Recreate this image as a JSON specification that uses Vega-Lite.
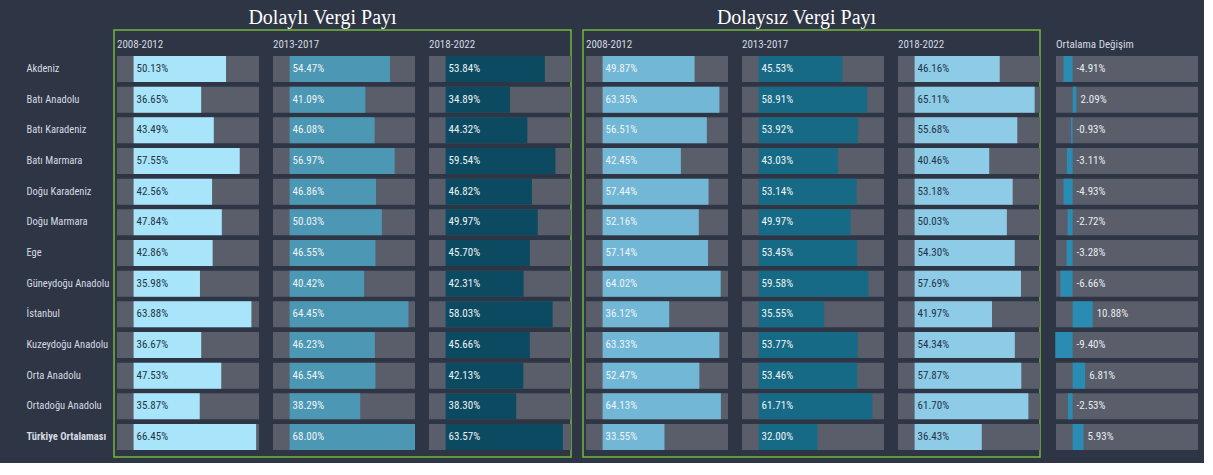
{
  "$schema": "https://vega.github.io/schema/vega-lite/v6.json",
  "background": "#2e3545",
  "padding": {"left": 25, "top": 7, "right": 5, "bottom": 5},
  "bounds": "flush",
  "spacing": 12,
  "datasets": {
    "shares": [
      {"region": "Akdeniz", "group": "Dolaylı", "period": "2008-2012", "v": 0.5013},
      {"region": "Akdeniz", "group": "Dolaylı", "period": "2013-2017", "v": 0.5447},
      {"region": "Akdeniz", "group": "Dolaylı", "period": "2018-2022", "v": 0.5384},
      {"region": "Batı Anadolu", "group": "Dolaylı", "period": "2008-2012", "v": 0.3665},
      {"region": "Batı Anadolu", "group": "Dolaylı", "period": "2013-2017", "v": 0.4109},
      {"region": "Batı Anadolu", "group": "Dolaylı", "period": "2018-2022", "v": 0.3489},
      {"region": "Batı Karadeniz", "group": "Dolaylı", "period": "2008-2012", "v": 0.4349},
      {"region": "Batı Karadeniz", "group": "Dolaylı", "period": "2013-2017", "v": 0.4608},
      {"region": "Batı Karadeniz", "group": "Dolaylı", "period": "2018-2022", "v": 0.4432},
      {"region": "Batı Marmara", "group": "Dolaylı", "period": "2008-2012", "v": 0.5755},
      {"region": "Batı Marmara", "group": "Dolaylı", "period": "2013-2017", "v": 0.5697},
      {"region": "Batı Marmara", "group": "Dolaylı", "period": "2018-2022", "v": 0.5954},
      {"region": "Doğu Karadeniz", "group": "Dolaylı", "period": "2008-2012", "v": 0.4256},
      {"region": "Doğu Karadeniz", "group": "Dolaylı", "period": "2013-2017", "v": 0.4686},
      {"region": "Doğu Karadeniz", "group": "Dolaylı", "period": "2018-2022", "v": 0.4682},
      {"region": "Doğu Marmara", "group": "Dolaylı", "period": "2008-2012", "v": 0.4784},
      {"region": "Doğu Marmara", "group": "Dolaylı", "period": "2013-2017", "v": 0.5003},
      {"region": "Doğu Marmara", "group": "Dolaylı", "period": "2018-2022", "v": 0.4997},
      {"region": "Ege", "group": "Dolaylı", "period": "2008-2012", "v": 0.4286},
      {"region": "Ege", "group": "Dolaylı", "period": "2013-2017", "v": 0.4655},
      {"region": "Ege", "group": "Dolaylı", "period": "2018-2022", "v": 0.4570},
      {"region": "Güneydoğu Anadolu", "group": "Dolaylı", "period": "2008-2012", "v": 0.3598},
      {"region": "Güneydoğu Anadolu", "group": "Dolaylı", "period": "2013-2017", "v": 0.4042},
      {"region": "Güneydoğu Anadolu", "group": "Dolaylı", "period": "2018-2022", "v": 0.4231},
      {"region": "İstanbul", "group": "Dolaylı", "period": "2008-2012", "v": 0.6388},
      {"region": "İstanbul", "group": "Dolaylı", "period": "2013-2017", "v": 0.6445},
      {"region": "İstanbul", "group": "Dolaylı", "period": "2018-2022", "v": 0.5803},
      {"region": "Kuzeydoğu Anadolu", "group": "Dolaylı", "period": "2008-2012", "v": 0.3667},
      {"region": "Kuzeydoğu Anadolu", "group": "Dolaylı", "period": "2013-2017", "v": 0.4623},
      {"region": "Kuzeydoğu Anadolu", "group": "Dolaylı", "period": "2018-2022", "v": 0.4566},
      {"region": "Orta Anadolu", "group": "Dolaylı", "period": "2008-2012", "v": 0.4753},
      {"region": "Orta Anadolu", "group": "Dolaylı", "period": "2013-2017", "v": 0.4654},
      {"region": "Orta Anadolu", "group": "Dolaylı", "period": "2018-2022", "v": 0.4213},
      {"region": "Ortadoğu Anadolu", "group": "Dolaylı", "period": "2008-2012", "v": 0.3587},
      {"region": "Ortadoğu Anadolu", "group": "Dolaylı", "period": "2013-2017", "v": 0.3829},
      {"region": "Ortadoğu Anadolu", "group": "Dolaylı", "period": "2018-2022", "v": 0.3830},
      {"region": "Türkiye Ortalaması", "group": "Dolaylı", "period": "2008-2012", "v": 0.6645},
      {"region": "Türkiye Ortalaması", "group": "Dolaylı", "period": "2013-2017", "v": 0.6800},
      {"region": "Türkiye Ortalaması", "group": "Dolaylı", "period": "2018-2022", "v": 0.6357},
      {"region": "Akdeniz", "group": "Dolaysız", "period": "2008-2012", "v": 0.4987},
      {"region": "Akdeniz", "group": "Dolaysız", "period": "2013-2017", "v": 0.4553},
      {"region": "Akdeniz", "group": "Dolaysız", "period": "2018-2022", "v": 0.4616},
      {"region": "Batı Anadolu", "group": "Dolaysız", "period": "2008-2012", "v": 0.6335},
      {"region": "Batı Anadolu", "group": "Dolaysız", "period": "2013-2017", "v": 0.5891},
      {"region": "Batı Anadolu", "group": "Dolaysız", "period": "2018-2022", "v": 0.6511},
      {"region": "Batı Karadeniz", "group": "Dolaysız", "period": "2008-2012", "v": 0.5651},
      {"region": "Batı Karadeniz", "group": "Dolaysız", "period": "2013-2017", "v": 0.5392},
      {"region": "Batı Karadeniz", "group": "Dolaysız", "period": "2018-2022", "v": 0.5568},
      {"region": "Batı Marmara", "group": "Dolaysız", "period": "2008-2012", "v": 0.4245},
      {"region": "Batı Marmara", "group": "Dolaysız", "period": "2013-2017", "v": 0.4303},
      {"region": "Batı Marmara", "group": "Dolaysız", "period": "2018-2022", "v": 0.4046},
      {"region": "Doğu Karadeniz", "group": "Dolaysız", "period": "2008-2012", "v": 0.5744},
      {"region": "Doğu Karadeniz", "group": "Dolaysız", "period": "2013-2017", "v": 0.5314},
      {"region": "Doğu Karadeniz", "group": "Dolaysız", "period": "2018-2022", "v": 0.5318},
      {"region": "Doğu Marmara", "group": "Dolaysız", "period": "2008-2012", "v": 0.5216},
      {"region": "Doğu Marmara", "group": "Dolaysız", "period": "2013-2017", "v": 0.4997},
      {"region": "Doğu Marmara", "group": "Dolaysız", "period": "2018-2022", "v": 0.5003},
      {"region": "Ege", "group": "Dolaysız", "period": "2008-2012", "v": 0.5714},
      {"region": "Ege", "group": "Dolaysız", "period": "2013-2017", "v": 0.5345},
      {"region": "Ege", "group": "Dolaysız", "period": "2018-2022", "v": 0.5430},
      {"region": "Güneydoğu Anadolu", "group": "Dolaysız", "period": "2008-2012", "v": 0.6402},
      {"region": "Güneydoğu Anadolu", "group": "Dolaysız", "period": "2013-2017", "v": 0.5958},
      {"region": "Güneydoğu Anadolu", "group": "Dolaysız", "period": "2018-2022", "v": 0.5769},
      {"region": "İstanbul", "group": "Dolaysız", "period": "2008-2012", "v": 0.3612},
      {"region": "İstanbul", "group": "Dolaysız", "period": "2013-2017", "v": 0.3555},
      {"region": "İstanbul", "group": "Dolaysız", "period": "2018-2022", "v": 0.4197},
      {"region": "Kuzeydoğu Anadolu", "group": "Dolaysız", "period": "2008-2012", "v": 0.6333},
      {"region": "Kuzeydoğu Anadolu", "group": "Dolaysız", "period": "2013-2017", "v": 0.5377},
      {"region": "Kuzeydoğu Anadolu", "group": "Dolaysız", "period": "2018-2022", "v": 0.5434},
      {"region": "Orta Anadolu", "group": "Dolaysız", "period": "2008-2012", "v": 0.5247},
      {"region": "Orta Anadolu", "group": "Dolaysız", "period": "2013-2017", "v": 0.5346},
      {"region": "Orta Anadolu", "group": "Dolaysız", "period": "2018-2022", "v": 0.5787},
      {"region": "Ortadoğu Anadolu", "group": "Dolaysız", "period": "2008-2012", "v": 0.6413},
      {"region": "Ortadoğu Anadolu", "group": "Dolaysız", "period": "2013-2017", "v": 0.6171},
      {"region": "Ortadoğu Anadolu", "group": "Dolaysız", "period": "2018-2022", "v": 0.6170},
      {"region": "Türkiye Ortalaması", "group": "Dolaysız", "period": "2008-2012", "v": 0.3355},
      {"region": "Türkiye Ortalaması", "group": "Dolaysız", "period": "2013-2017", "v": 0.3200},
      {"region": "Türkiye Ortalaması", "group": "Dolaysız", "period": "2018-2022", "v": 0.3643}
    ],
    "change": [
      {"region": "Akdeniz", "change": -0.0491},
      {"region": "Batı Anadolu", "change": 0.0209},
      {"region": "Batı Karadeniz", "change": -0.0093},
      {"region": "Batı Marmara", "change": -0.0311},
      {"region": "Doğu Karadeniz", "change": -0.0493},
      {"region": "Doğu Marmara", "change": -0.0272},
      {"region": "Ege", "change": -0.0328},
      {"region": "Güneydoğu Anadolu", "change": -0.0666},
      {"region": "İstanbul", "change": 0.1088},
      {"region": "Kuzeydoğu Anadolu", "change": -0.0940},
      {"region": "Orta Anadolu", "change": 0.0681},
      {"region": "Ortadoğu Anadolu", "change": -0.0253},
      {"region": "Türkiye Ortalaması", "change": 0.0593}
    ]
  },
  "hconcat": [
    {
      "width": 457,
      "height": 427,
      "title": {"text": "Dolaylı Vergi Payı", "font": "Liberation Serif", "fontSize": 20, "fontWeight": "normal", "color": "#ffffff", "anchor": "middle", "frame": "group", "dx": -20, "offset": 2},
      "view": {"stroke": "#74b83a", "strokeWidth": 1.5},
      "data": {"name": "shares"},
      "transform": [{"filter": "datum.group === 'Dolaylı'"}],
      "encoding": {
        "y": {
          "field": "region", "type": "nominal", "sort": null,
          "scale": {"domain": ["Akdeniz", "Batı Anadolu", "Batı Karadeniz", "Batı Marmara", "Doğu Karadeniz", "Doğu Marmara", "Ege", "Güneydoğu Anadolu", "İstanbul", "Kuzeydoğu Anadolu", "Orta Anadolu", "Ortadoğu Anadolu", "Türkiye Ortalaması"], "paddingInner": 0.152, "paddingOuter": 0.537, "align": 0.788},
          "axis": {"orient": "left", "title": null, "domain": false, "ticks": false, "grid": false, "labelAlign": "left", "labelPadding": 88, "labelLimit": 200, "labelFont": "Roboto Condensed, Liberation Sans Narrow, Roboto, sans-serif", "labelFontSize": 10.5, "labelColor": "#d5dae2", "labelFontWeight": {"condition": {"test": "datum.value === 'Türkiye Ortalaması'", "value": "bold"}, "value": "normal"}}
        }
      },
      "layer": [
        {
          "mark": {"type": "point", "opacity": 0},
          "encoding": {"x": {"field": "period", "type": "nominal", "scale": {"type": "band", "domain": ["2008-2012", "2013-2017", "2018-2022"], "range": [3, 471], "paddingInner": 0, "paddingOuter": 0}, "axis": {"orient": "top", "offset": -19, "title": null, "domain": false, "ticks": false, "grid": false, "labelAngle": 0, "labelAlign": "left", "labelOffset": -78, "labelBaseline": "alphabetic", "labelPadding": 2, "labelFont": "Roboto Condensed, Liberation Sans Narrow, Roboto, sans-serif", "labelFontSize": 11, "labelColor": "#d5dae2"}}}
        },
        {
          "transform": [{"filter": "datum.period === '2008-2012'"}],
          "mark": {"type": "bar", "color": "#595e6a"},
          "encoding": {"x": {"datum": -0.09, "type": "quantitative", "scale": {"domain": [-0.09, 0.68], "range": [3, 145]}, "axis": null}, "x2": {"datum": 0.68}}
        },
        {
          "transform": [{"filter": "datum.period === '2008-2012'"}],
          "mark": {"type": "bar", "color": "#a8e5fa"},
          "encoding": {"x": {"field": "v", "type": "quantitative", "scale": {"domain": [-0.09, 0.68], "range": [3, 145]}, "axis": null}}
        },
        {
          "transform": [{"filter": "datum.period === '2008-2012'"}],
          "mark": {"type": "text", "align": "left", "baseline": "middle", "dx": 3, "color": "#1f3546", "font": "Roboto Condensed, Liberation Sans Narrow, Roboto, sans-serif", "fontSize": 11},
          "encoding": {"x": {"datum": 0, "type": "quantitative", "scale": {"domain": [-0.09, 0.68], "range": [3, 145]}, "axis": null}, "text": {"field": "v", "type": "quantitative", "format": ".2%"}}
        },
        {
          "transform": [{"filter": "datum.period === '2013-2017'"}],
          "mark": {"type": "bar", "color": "#595e6a"},
          "encoding": {"x": {"datum": -0.09, "type": "quantitative", "scale": {"domain": [-0.09, 0.68], "range": [159, 301]}, "axis": null}, "x2": {"datum": 0.68}}
        },
        {
          "transform": [{"filter": "datum.period === '2013-2017'"}],
          "mark": {"type": "bar", "color": "#4c98b4"},
          "encoding": {"x": {"field": "v", "type": "quantitative", "scale": {"domain": [-0.09, 0.68], "range": [159, 301]}, "axis": null}}
        },
        {
          "transform": [{"filter": "datum.period === '2013-2017'"}],
          "mark": {"type": "text", "align": "left", "baseline": "middle", "dx": 3, "color": "#eef3f6", "font": "Roboto Condensed, Liberation Sans Narrow, Roboto, sans-serif", "fontSize": 11},
          "encoding": {"x": {"datum": 0, "type": "quantitative", "scale": {"domain": [-0.09, 0.68], "range": [159, 301]}, "axis": null}, "text": {"field": "v", "type": "quantitative", "format": ".2%"}}
        },
        {
          "transform": [{"filter": "datum.period === '2018-2022'"}],
          "mark": {"type": "bar", "color": "#595e6a"},
          "encoding": {"x": {"datum": -0.09, "type": "quantitative", "scale": {"domain": [-0.09, 0.68], "range": [315, 457]}, "axis": null}, "x2": {"datum": 0.68}}
        },
        {
          "transform": [{"filter": "datum.period === '2018-2022'"}],
          "mark": {"type": "bar", "color": "#0c4a62"},
          "encoding": {"x": {"field": "v", "type": "quantitative", "scale": {"domain": [-0.09, 0.68], "range": [315, 457]}, "axis": null}}
        },
        {
          "transform": [{"filter": "datum.period === '2018-2022'"}],
          "mark": {"type": "text", "align": "left", "baseline": "middle", "dx": 3, "color": "#eef3f6", "font": "Roboto Condensed, Liberation Sans Narrow, Roboto, sans-serif", "fontSize": 11},
          "encoding": {"x": {"datum": 0, "type": "quantitative", "scale": {"domain": [-0.09, 0.68], "range": [315, 457]}, "axis": null}, "text": {"field": "v", "type": "quantitative", "format": ".2%"}}
        }
      ],
      "resolve": {"scale": {"x": "independent"}, "axis": {"x": "independent"}}
    },
    {
      "width": 457,
      "height": 427,
      "title": {"text": "Dolaysız Vergi Payı", "font": "Liberation Serif", "fontSize": 20, "fontWeight": "normal", "color": "#ffffff", "anchor": "middle", "frame": "group", "dx": -15, "offset": 2},
      "view": {"stroke": "#74b83a", "strokeWidth": 1.5},
      "data": {"name": "shares"},
      "transform": [{"filter": "datum.group === 'Dolaysız'"}],
      "encoding": {
        "y": {
          "field": "region", "type": "nominal", "sort": null,
          "scale": {"domain": ["Akdeniz", "Batı Anadolu", "Batı Karadeniz", "Batı Marmara", "Doğu Karadeniz", "Doğu Marmara", "Ege", "Güneydoğu Anadolu", "İstanbul", "Kuzeydoğu Anadolu", "Orta Anadolu", "Ortadoğu Anadolu", "Türkiye Ortalaması"], "paddingInner": 0.152, "paddingOuter": 0.537, "align": 0.788},
          "axis": null
        }
      },
      "layer": [
        {
          "mark": {"type": "point", "opacity": 0},
          "encoding": {"x": {"field": "period", "type": "nominal", "scale": {"type": "band", "domain": ["2008-2012", "2013-2017", "2018-2022"], "range": [3, 471], "paddingInner": 0, "paddingOuter": 0}, "axis": {"orient": "top", "offset": -19, "title": null, "domain": false, "ticks": false, "grid": false, "labelAngle": 0, "labelAlign": "left", "labelOffset": -78, "labelBaseline": "alphabetic", "labelPadding": 2, "labelFont": "Roboto Condensed, Liberation Sans Narrow, Roboto, sans-serif", "labelFontSize": 11, "labelColor": "#d5dae2"}}}
        },
        {
          "transform": [{"filter": "datum.period === '2008-2012'"}],
          "mark": {"type": "bar", "color": "#595e6a"},
          "encoding": {"x": {"datum": -0.09, "type": "quantitative", "scale": {"domain": [-0.09, 0.68], "range": [3, 145]}, "axis": null}, "x2": {"datum": 0.68}}
        },
        {
          "transform": [{"filter": "datum.period === '2008-2012'"}],
          "mark": {"type": "bar", "color": "#72b8d6"},
          "encoding": {"x": {"field": "v", "type": "quantitative", "scale": {"domain": [-0.09, 0.68], "range": [3, 145]}, "axis": null}}
        },
        {
          "transform": [{"filter": "datum.period === '2008-2012'"}],
          "mark": {"type": "text", "align": "left", "baseline": "middle", "dx": 3, "color": "#eef3f6", "font": "Roboto Condensed, Liberation Sans Narrow, Roboto, sans-serif", "fontSize": 11},
          "encoding": {"x": {"datum": 0, "type": "quantitative", "scale": {"domain": [-0.09, 0.68], "range": [3, 145]}, "axis": null}, "text": {"field": "v", "type": "quantitative", "format": ".2%"}}
        },
        {
          "transform": [{"filter": "datum.period === '2013-2017'"}],
          "mark": {"type": "bar", "color": "#595e6a"},
          "encoding": {"x": {"datum": -0.09, "type": "quantitative", "scale": {"domain": [-0.09, 0.68], "range": [159, 301]}, "axis": null}, "x2": {"datum": 0.68}}
        },
        {
          "transform": [{"filter": "datum.period === '2013-2017'"}],
          "mark": {"type": "bar", "color": "#176a85"},
          "encoding": {"x": {"field": "v", "type": "quantitative", "scale": {"domain": [-0.09, 0.68], "range": [159, 301]}, "axis": null}}
        },
        {
          "transform": [{"filter": "datum.period === '2013-2017'"}],
          "mark": {"type": "text", "align": "left", "baseline": "middle", "dx": 3, "color": "#eef3f6", "font": "Roboto Condensed, Liberation Sans Narrow, Roboto, sans-serif", "fontSize": 11},
          "encoding": {"x": {"datum": 0, "type": "quantitative", "scale": {"domain": [-0.09, 0.68], "range": [159, 301]}, "axis": null}, "text": {"field": "v", "type": "quantitative", "format": ".2%"}}
        },
        {
          "transform": [{"filter": "datum.period === '2018-2022'"}],
          "mark": {"type": "bar", "color": "#595e6a"},
          "encoding": {"x": {"datum": -0.09, "type": "quantitative", "scale": {"domain": [-0.09, 0.68], "range": [315, 457]}, "axis": null}, "x2": {"datum": 0.68}}
        },
        {
          "transform": [{"filter": "datum.period === '2018-2022'"}],
          "mark": {"type": "bar", "color": "#8dcbe7"},
          "encoding": {"x": {"field": "v", "type": "quantitative", "scale": {"domain": [-0.09, 0.68], "range": [315, 457]}, "axis": null}}
        },
        {
          "transform": [{"filter": "datum.period === '2018-2022'"}],
          "mark": {"type": "text", "align": "left", "baseline": "middle", "dx": 3, "color": "#1f3546", "font": "Roboto Condensed, Liberation Sans Narrow, Roboto, sans-serif", "fontSize": 11},
          "encoding": {"x": {"datum": 0, "type": "quantitative", "scale": {"domain": [-0.09, 0.68], "range": [315, 457]}, "axis": null}, "text": {"field": "v", "type": "quantitative", "format": ".2%"}}
        }
      ],
      "resolve": {"scale": {"x": "independent"}, "axis": {"x": "independent"}}
    },
    {
      "width": 147,
      "height": 427,
      "view": {"stroke": null},
      "data": {"name": "change"},
      "encoding": {
        "y": {
          "field": "region", "type": "nominal", "sort": null,
          "scale": {"domain": ["Akdeniz", "Batı Anadolu", "Batı Karadeniz", "Batı Marmara", "Doğu Karadeniz", "Doğu Marmara", "Ege", "Güneydoğu Anadolu", "İstanbul", "Kuzeydoğu Anadolu", "Orta Anadolu", "Ortadoğu Anadolu", "Türkiye Ortalaması"], "paddingInner": 0.152, "paddingOuter": 0.537, "align": 0.788},
          "axis": null
        }
      },
      "layer": [
        {
          "mark": {"type": "point", "opacity": 0},
          "encoding": {"x": {"datum": "Ortalama Değişim", "type": "nominal", "scale": {"type": "band", "range": [4, 146], "paddingInner": 0, "paddingOuter": 0}, "axis": {"orient": "top", "offset": -19, "title": null, "domain": false, "ticks": false, "grid": false, "labelAngle": 0, "labelAlign": "left", "labelOffset": -71, "labelBaseline": "alphabetic", "labelPadding": 2, "labelFont": "Roboto Condensed, Liberation Sans Narrow, Roboto, sans-serif", "labelFontSize": 11, "labelColor": "#d5dae2"}}}
        },
        {
          "mark": {"type": "bar", "color": "#595e6a"},
          "encoding": {"x": {"datum": -0.09, "type": "quantitative", "scale": {"domain": [-0.09, 0.68], "range": [4, 146]}, "axis": null}, "x2": {"datum": 0.68}}
        },
        {
          "mark": {"type": "bar", "color": "#2a8bb3"},
          "encoding": {"x": {"field": "change", "type": "quantitative", "scale": {"domain": [-0.09, 0.68], "range": [4, 146]}, "axis": null}}
        },
        {
          "mark": {"type": "text", "align": "left", "baseline": "middle", "dx": 4, "color": "#e6ecf0", "font": "Roboto Condensed, Liberation Sans Narrow, Roboto, sans-serif", "fontSize": 11},
          "encoding": {"x": {"field": "change", "type": "quantitative", "scale": {"domain": [0, 0.68], "range": [20.6, 146], "clamp": true}, "axis": null}, "text": {"field": "change", "type": "quantitative", "format": ".2%"}}
        }
      ],
      "resolve": {"scale": {"x": "independent"}, "axis": {"x": "independent"}}
    }
  ],
  "config": {
    "view": {"stroke": null},
    "axis": {"grid": false},
    "locale": {"number": {"decimal": ".", "thousands": ",", "grouping": [3], "currency": ["", ""], "minus": "-"}}
  }
}
